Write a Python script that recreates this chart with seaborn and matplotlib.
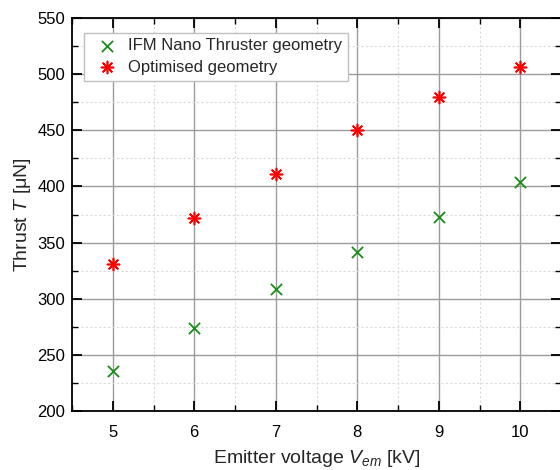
import matplotlib
matplotlib.use("Agg")
import matplotlib.pyplot as plt
import seaborn as sns
import pandas as pd
from matplotlib.ticker import MultipleLocator

voltage = [5, 6, 7, 8, 9, 10]
thrust_ifm = [236, 274, 309, 342, 373, 404]
thrust_opt = [331, 372, 411, 450, 480, 506]
series_names = ["IFM Nano Thruster geometry", "Optimised geometry"]

sns.set_theme(style="white")
plt.rcParams['font.family'] = ['Liberation Sans', 'DejaVu Sans']
plt.rcParams['mathtext.fontset'] = 'custom'
plt.rcParams['mathtext.rm'] = 'Liberation Sans'
plt.rcParams['mathtext.it'] = 'Liberation Sans:italic'

df = pd.DataFrame({
    "V": voltage * 2,
    "T": thrust_ifm + thrust_opt,
    "series": [series_names[0]] * len(voltage) + [series_names[1]] * len(voltage),
})

fig = plt.figure(figsize=(5.6, 4.7), dpi=100)
ax = fig.add_axes([72/560, 59/470, 489/560, 393/470])

sns.scatterplot(data=df[df.series == series_names[0]], x="V", y="T", ax=ax,
                marker="x", color="#1a8c1a", s=65, linewidth=1.3,
                label=series_names[0], zorder=5)
sns.scatterplot(data=df[df.series == series_names[1]], x="V", y="T", ax=ax,
                marker=(8, 2, 0), color="#ff0000", s=75, linewidth=1.2,
                label=series_names[1], zorder=5)

ax.set_xlim(4.5, 10.5)
ax.set_ylim(200, 550)
ax.xaxis.set_major_locator(MultipleLocator(1))
ax.xaxis.set_minor_locator(MultipleLocator(0.5))
ax.yaxis.set_major_locator(MultipleLocator(50))
ax.yaxis.set_minor_locator(MultipleLocator(25))

ax.grid(which="major", color="#9c9c9c", linewidth=1.0, linestyle="-")
ax.grid(which="minor", color="#dadada", linewidth=0.8, linestyle=(0, (2, 2)))
ax.set_axisbelow(True)

for sp in ax.spines.values():
    sp.set_visible(True)
    sp.set_color("black")
    sp.set_linewidth(1.3)

ax.tick_params(which="both", direction="in", top=True, right=True,
               bottom=True, left=True, colors="black", labelsize=12)
ax.tick_params(which="major", length=7, width=1.3)
ax.tick_params(which="minor", length=4, width=1.0)
ax.tick_params(axis="x", pad=10)
ax.tick_params(axis="y", pad=5)

ax.set_xlabel(r"Emitter voltage $V_{em}$ [kV]", fontsize=14, labelpad=6)
ax.set_ylabel(r"Thrust $T$ [μN]", fontsize=14, labelpad=3)

leg = ax.legend(loc="upper left", bbox_to_anchor=(0.025, 0.963), fontsize=12,
                frameon=True, fancybox=False, framealpha=1, edgecolor="#c0c0c0",
                borderpad=0.35, handletextpad=0.3, labelspacing=0.38,
                handlelength=2.0, borderaxespad=0)
leg.get_frame().set_linewidth(1.0)

fig.savefig("out.png", dpi=100)
